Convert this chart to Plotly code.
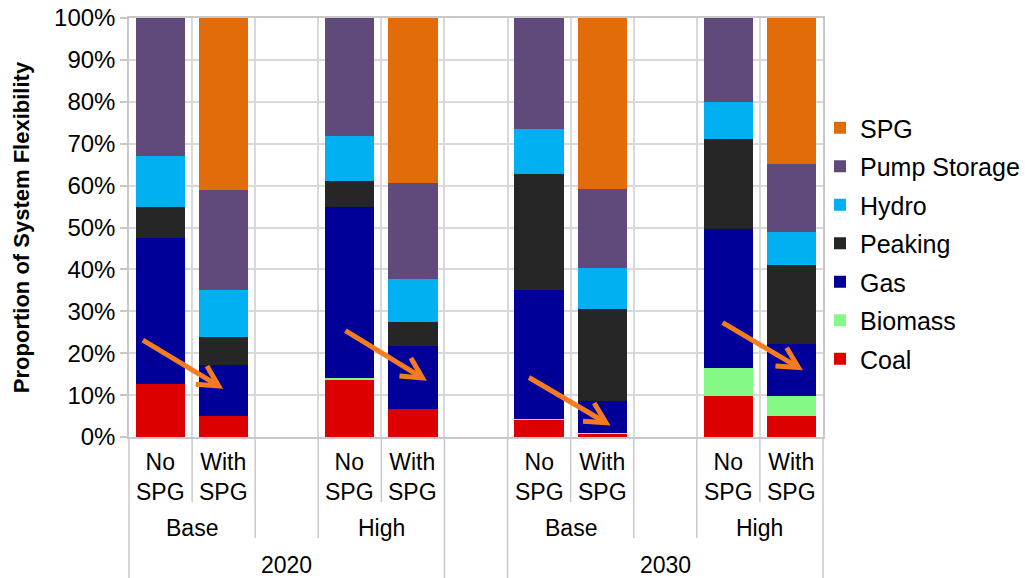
import plotly.graph_objects as go
import math

# ---- data (percent of system flexibility) ----
positions = [0, 1, 3, 4, 6, 7, 9, 10]          # slot index of each bar (gaps between groups)
bar_labels = ["No<br>SPG", "With<br>SPG"] * 4
scenarios = ["Base", "High", "Base", "High"]
scenario_pos = [0.5, 3.5, 6.5, 9.5]
years = ["2020", "2030"]
year_pos = [2, 8]
y_ticks = [0, 10, 20, 30, 40, 50, 60, 70, 80, 90, 100]
y_tick_text = ["0%", "10%", "20%", "30%", "40%", "50%", "60%", "70%", "80%", "90%", "100%"]

coal         = [12.6, 5.1, 13.8, 6.8, 4.2, 0.8, 9.9, 5.1]
biomass      = [0.0, 0.0, 0.3, 0.0, 0.2, 0.2, 6.5, 4.7]
gas          = [34.8, 12.2, 40.9, 15.0, 30.8, 7.6, 33.2, 12.3]
peaking      = [7.4, 6.5, 6.1, 5.7, 27.6, 21.9, 21.5, 19.0]
hydro        = [12.3, 11.2, 10.7, 10.1, 10.6, 9.8, 8.9, 7.8]
pump_storage = [32.9, 23.9, 28.2, 23.0, 26.6, 19.0, 20.0, 16.3]
spg          = [0.0, 41.1, 0.0, 39.4, 0.0, 40.7, 0.0, 34.8]

series = [
    ("Coal", coal, "#DD0000"),
    ("Biomass", biomass, "#85F985"),
    ("Gas", gas, "#000099"),
    ("Peaking", peaking, "#262626"),
    ("Hydro", hydro, "#00B0F0"),
    ("Pump Storage", pump_storage, "#604A7B"),
    ("SPG", spg, "#E36C0A"),
]

# arrows: (tail_x, tail_y, head_x, head_y) in axis units
arrows = [
    (-0.28, 23.1, 0.92, 12.2),
    (2.93, 25.4, 4.15, 14.1),
    (5.84, 14.2, 7.06, 3.4),
    (8.91, 27.3, 10.11, 16.6),
]

FONT = "Liberation Sans, Arial, sans-serif"
W, H = 1025, 578
ML, MR, MT, MB = 129, 202, 18, 141
XR = (-0.5, 10.5)
YR = (0, 100)
pw, ph = W - ML - MR, H - MT - MB
px_per_x = pw / (XR[1] - XR[0])
px_per_y = ph / (YR[1] - YR[0])

fig = go.Figure()
n = len(series)
for i, (name, vals, col) in enumerate(series):
    fig.add_trace(go.Bar(
        x=positions, y=vals, name=name, width=0.78,
        marker=dict(color=col, line=dict(width=0)),
        legendgroup=name, legendrank=n - i,
    ))

def paper_y(py):
    return (MT + ph - py) / ph

def paper_x(v):
    return (v - XR[0]) / (XR[1] - XR[0])

shapes = []
line_col = "#C8C8C8"
# separators in category label area
for v in [0.5, 3.5, 6.5, 9.5]:
    shapes.append(dict(type="line", xref="paper", yref="paper", x0=paper_x(v), x1=paper_x(v),
                       y0=0, y1=paper_y(502), line=dict(color=line_col, width=1.5)))
for v in [1.5, 2.5, 7.5, 8.5]:
    shapes.append(dict(type="line", xref="paper", yref="paper", x0=paper_x(v), x1=paper_x(v),
                       y0=0, y1=paper_y(538), line=dict(color=line_col, width=1.5)))
for v in [-0.5, 4.5, 5.5, 10.5]:
    shapes.append(dict(type="line", xref="paper", yref="paper", x0=paper_x(v), x1=paper_x(v),
                       y0=0, y1=paper_y(578), line=dict(color=line_col, width=1.5)))

# orange arrows with open chevron heads
arrow_col = "#F47C20"
for tx, ty, hx, hy in arrows:
    shapes.append(dict(type="line", xref="x", yref="y", x0=tx, y0=ty, x1=hx, y1=hy,
                       line=dict(color=arrow_col, width=5)))
    dxp = (hx - tx) * px_per_x
    dyp = -(hy - ty) * px_per_y
    ang = math.atan2(dyp, dxp) + math.pi
    L = 23
    pts = []
    for da in (0.50, -0.47):
        a = ang + da
        lx = hx + L * math.cos(a) / px_per_x
        ly = hy - L * math.sin(a) / px_per_y
        pts.append((lx, ly))
    path = f"M {pts[0][0]},{pts[0][1]} L {hx},{hy} L {pts[1][0]},{pts[1][1]}"
    shapes.append(dict(type="path", xref="x", yref="y", path=path,
                       line=dict(color=arrow_col, width=5)))

annotations = []
def lab(x, py, text):
    annotations.append(dict(x=x, y=paper_y(py), xref="x", yref="paper", text=text,
                            xanchor="center", yanchor="middle", showarrow=False,
                            font=dict(size=23, color="#000", family=FONT)))
for p, t in zip(positions, bar_labels):
    lab(p, 476.5, t)
for p, t in zip(scenario_pos, scenarios):
    lab(p, 528, t)
for p, t in zip(year_pos, years):
    lab(p, 565, t)

fig.update_layout(
    width=W, height=H,
    margin=dict(l=ML, r=MR, t=MT, b=MB, autoexpand=False),
    barmode="stack",
    plot_bgcolor="white", paper_bgcolor="white",
    font=dict(family=FONT, color="#000", size=22),
    shapes=shapes,
    annotations=annotations,
    legend=dict(
        x=paper_x(10.5) - 3 / pw, y=paper_y(105), xanchor="left", yanchor="top",
        traceorder="grouped", tracegroupgap=3,
        font=dict(size=25, family=FONT, color="#000"),
        bgcolor="rgba(0,0,0,0)",
    ),
    xaxis=dict(
        range=list(XR), tickvals=[v + 0.5 for v in range(-1, 11)],
        showticklabels=False, ticks="", showgrid=True, gridcolor="#D9D9D9", gridwidth=1.5,
        showline=True, linecolor=line_col, linewidth=1.5, mirror=True, zeroline=False,
        fixedrange=True,
    ),
    yaxis=dict(
        range=list(YR), tickmode="array", tickvals=y_ticks, ticktext=y_tick_text,
        ticks="outside", ticklen=7, tickcolor=line_col, tickwidth=1.5,
        showgrid=True, gridcolor="#D9D9D9", gridwidth=1.5,
        showline=True, linecolor=line_col, linewidth=1.5, mirror=True, zeroline=False,
        tickfont=dict(size=24, family=FONT, color="#000"),
        title=dict(text="<b>Proportion of System Flexibility</b>",
                   font=dict(size=22, family=FONT, color="#000"), standoff=18),
        fixedrange=True,
    ),
    bargap=0,
)

fig.write_html("out.html")
